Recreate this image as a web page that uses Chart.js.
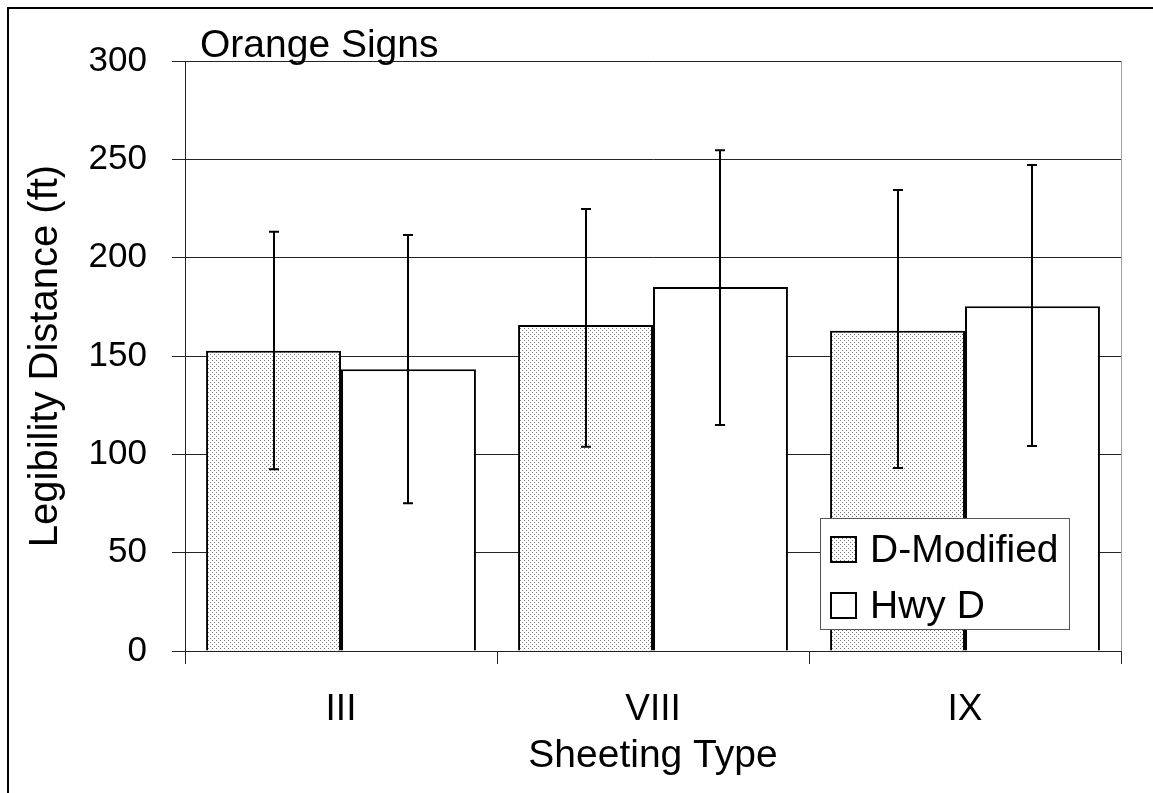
<!DOCTYPE html>
<html>
<head>
<meta charset="utf-8">
<script src="https://cdn.jsdelivr.net/npm/chart.js@4/dist/chart.umd.min.js"></script>
<style>
  html, body { margin: 0; padding: 0; background: #fff; overflow: hidden; }
  canvas { display: block; }
</style>
</head>
<body>
<canvas id="chart" width="1153" height="793"></canvas>
<script>
// data
const categories = ['III', 'VIII', 'IX'];
const seriesNames = ['D-Modified', 'Hwy D'];
const dModified = [152.7, 165.8, 162.9];
const hwyD = [143.2, 185.1, 175.3];
const dModifiedHigh = [213.2, 224.7, 234.4];
const dModifiedLow = [92.4, 103.9, 93.0];
const hwyDHigh = [211.5, 254.6, 247.1];
const hwyDLow = [75.1, 114.9, 104.2];
const yTicks = [0, 50, 100, 150, 200, 250, 300];

const FONT = "'Liberation Sans', Arial, sans-serif";

// small dotted fill like the old excel pattern
function dotPattern() {
    const c = document.createElement('canvas');
    c.width = 4; c.height = 4;
    const g = c.getContext('2d');
    g.fillStyle = '#fff';
    g.fillRect(0, 0, 4, 4);
    g.fillStyle = '#7a7a7a';
    g.fillRect(0, 0, 1, 1);
    g.fillRect(2, 2, 1, 1);
    return g.createPattern(c, 'repeat');
}
const dots = dotPattern();

// frame, plot border and title
const framePlugin = {
    id: 'frame',
    beforeDraw(chart) {
        const ctx = chart.ctx;
        const a = chart.chartArea;
        ctx.save();
        ctx.fillStyle = '#000';
        ctx.fillRect(7, 7, 2, chart.height);
        ctx.fillRect(7, 7, chart.width, 2);
        ctx.strokeStyle = '#a0a0a0';
        ctx.lineWidth = 1;
        ctx.strokeRect(a.left + 0.5, a.top + 0.5, a.right - a.left, a.bottom - a.top);
        ctx.restore();
    },
    afterDraw(chart) {
        const ctx = chart.ctx;
        const a = chart.chartArea;
        ctx.save();
        ctx.fillStyle = '#000';
        ctx.font = '39px ' + FONT;
        ctx.textAlign = 'left';
        ctx.textBaseline = 'alphabetic';
        ctx.fillText('Orange Signs', a.left + 15, a.top - 4);
        ctx.restore();
    }
};

// error bars from the y scale
const errorBars = {
    id: 'errorBars',
    afterDatasetsDraw(chart) {
        const ctx = chart.ctx;
        const y = chart.scales.y;
        const highs = [dModifiedHigh, hwyDHigh];
        const lows = [dModifiedLow, hwyDLow];
        ctx.save();
        ctx.strokeStyle = '#000';
        ctx.lineWidth = 2;
        chart.data.datasets.forEach((ds, i) => {
            const meta = chart.getDatasetMeta(i);
            meta.data.forEach((bar, j) => {
                const x = Math.round(bar.x);
                const top = y.getPixelForValue(highs[i][j]);
                const bot = y.getPixelForValue(lows[i][j]);
                ctx.beginPath();
                ctx.moveTo(x, top);
                ctx.lineTo(x, bot);
                ctx.moveTo(x - 5, top);
                ctx.lineTo(x + 5, top);
                ctx.moveTo(x - 5, bot);
                ctx.lineTo(x + 5, bot);
                ctx.stroke();
            });
        });
        ctx.restore();
    }
};

// legend box inside the plot, lower right
const boxLegend = {
    id: 'boxLegend',
    afterDraw(chart) {
        const ctx = chart.ctx;
        const a = chart.chartArea;
        const left = a.right - 301, top = 518, w = 249, h = 111;
        ctx.save();
        ctx.fillStyle = '#fff';
        ctx.fillRect(left, top, w, h);
        ctx.strokeStyle = '#555';
        ctx.lineWidth = 1;
        ctx.strokeRect(left + 0.5, top + 0.5, w, h);
        ctx.font = '39px ' + FONT;
        ctx.textBaseline = 'alphabetic';
        chart.data.datasets.forEach((ds, i) => {
            const sy = top + 18 + i * 56;
            ctx.fillStyle = ds.backgroundColor;
            ctx.fillRect(left + 10, sy, 27, 27);
            ctx.strokeStyle = '#000';
            ctx.lineWidth = 2;
            ctx.strokeRect(left + 11, sy + 1, 25, 25);
            ctx.fillStyle = '#000';
            ctx.fillText(ds.label, left + 50, sy + 26);
        });
        ctx.restore();
    }
};

new Chart(document.getElementById('chart'), {
    type: 'bar',
    data: {
        labels: categories,
        datasets: [{
            label: seriesNames[0],
            data: dModified,
            backgroundColor: dots,
            borderColor: '#000',
            borderWidth: 2
        }, {
            label: seriesNames[1],
            data: hwyD,
            backgroundColor: '#fff',
            borderColor: '#000',
            borderWidth: 2
        }]
    },
    options: {
        responsive: false,
        animation: false,
        devicePixelRatio: 1,
        layout: { padding: { left: 0, top: 61, right: 32, bottom: 0 } },
        plugins: {
            legend: { display: false },
            tooltip: { enabled: false }
        },
        datasets: {
            bar: { categoryPercentage: 0.865, barPercentage: 1.0 }
        },
        scales: {
            x: {
                grid: {
                    offset: true,
                    drawOnChartArea: false,
                    drawTicks: true,
                    tickLength: 13,
                    color: '#222'
                },
                border: { display: true, color: '#222', width: 1 },
                ticks: {
                    color: '#000',
                    padding: 24,
                    font: { family: FONT, size: 37 }
                },
                title: {
                    display: true,
                    text: 'Sheeting Type',
                    color: '#000',
                    padding: { top: 0, bottom: 13 },
                    font: { family: FONT, size: 39 }
                },
                afterFit(scale) { scale.height = 142; }
            },
            y: {
                min: 0,
                max: 300,
                afterBuildTicks(scale) {
                    scale.ticks = yTicks.map(v => ({ value: v }));
                },
                grid: {
                    drawTicks: true,
                    tickLength: 13,
                    color: '#222'
                },
                border: { display: true, color: '#222', width: 1 },
                ticks: {
                    color: '#000',
                    padding: 25,
                    font: { family: FONT, size: 35 }
                },
                title: {
                    display: true,
                    text: 'Legibility Distance (ft)',
                    color: '#000',
                    padding: { top: 22, bottom: 0 },
                    font: { family: FONT, size: 40 }
                },
                afterFit(scale) { scale.width = 185; }
            }
        }
    },
    plugins: [framePlugin, errorBars, boxLegend]
});
</script>
</body>
</html>
